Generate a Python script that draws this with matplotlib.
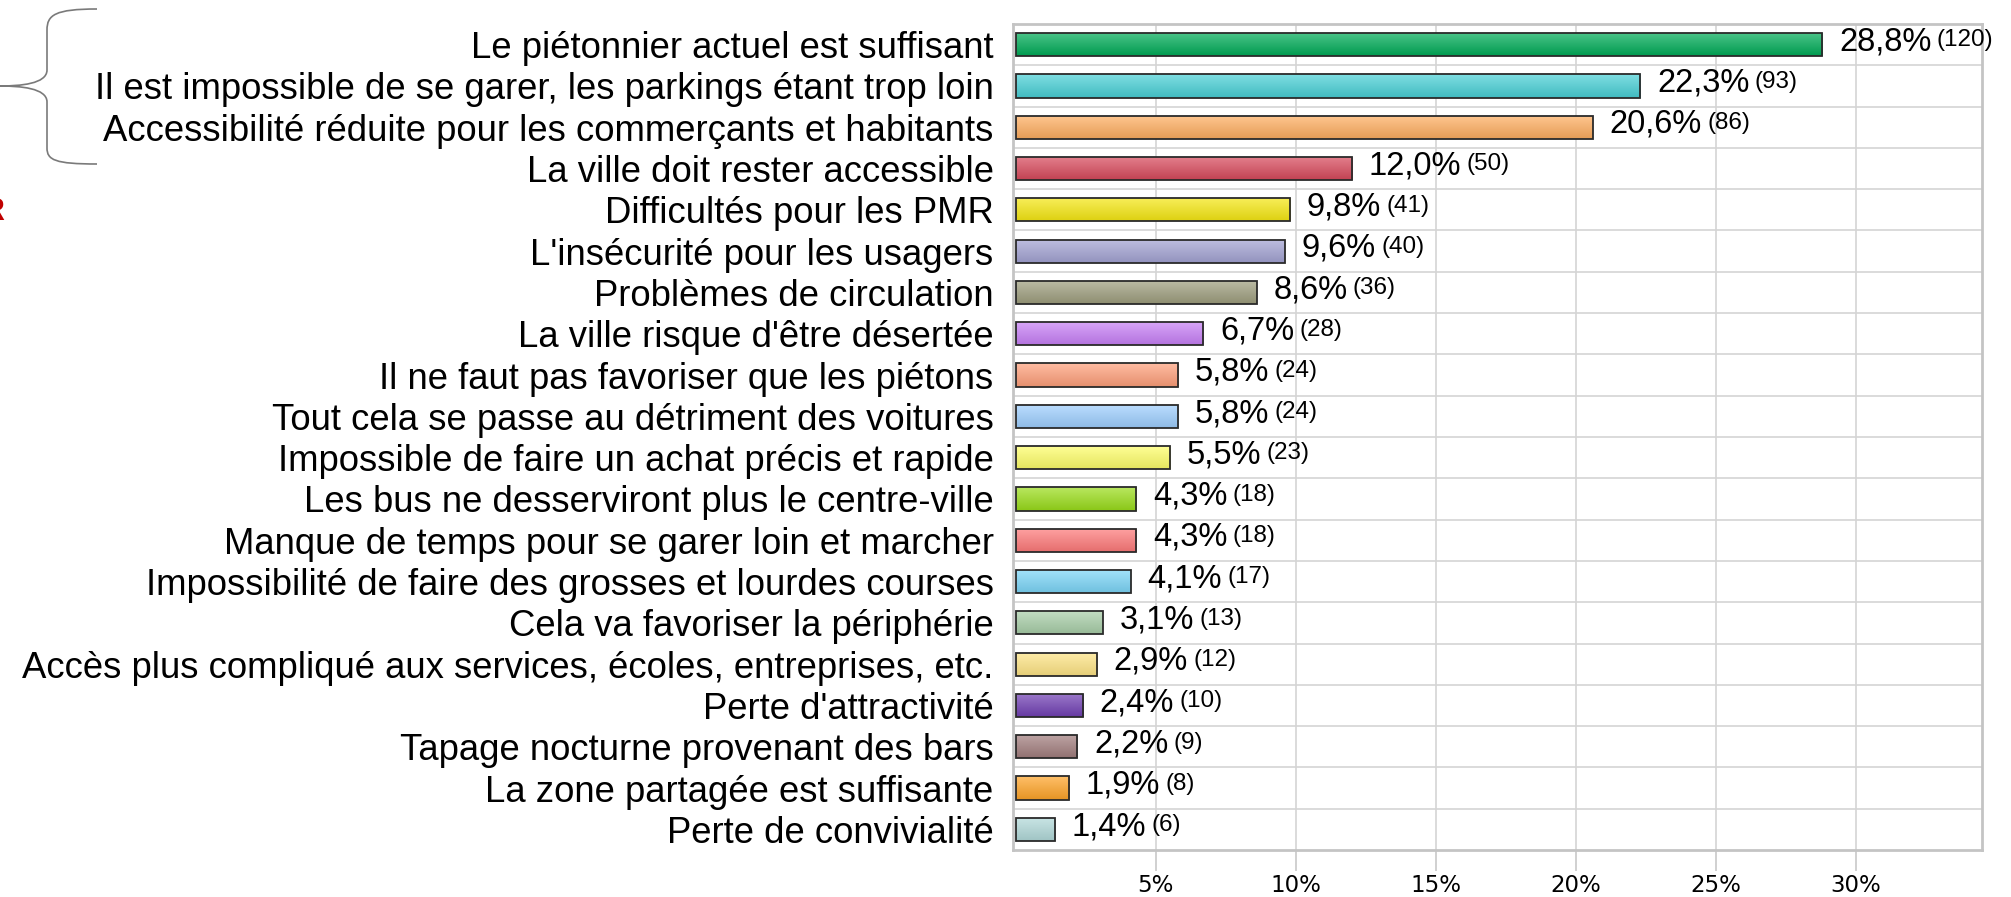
import matplotlib
matplotlib.use("Agg")
from matplotlib import pyplot as plt
from matplotlib.path import Path
from matplotlib.patches import PathPatch
import matplotlib.colors as mcolors
import numpy as np

# data
labels = [
    "Le piétonnier actuel est suffisant",
    "Il est impossible de se garer, les parkings étant trop loin",
    "Accessibilité réduite pour les commerçants et habitants",
    "La ville doit rester accessible",
    "Difficultés pour les PMR",
    "L'insécurité pour les usagers",
    "Problèmes de circulation",
    "La ville risque d'être désertée",
    "Il ne faut pas favoriser que les piétons",
    "Tout cela se passe au détriment des voitures",
    "Impossible de faire un achat précis et rapide",
    "Les bus ne desserviront plus le centre-ville",
    "Manque de temps pour se garer loin et marcher",
    "Impossibilité de faire des grosses et lourdes courses",
    "Cela va favoriser la périphérie",
    "Accès plus compliqué aux services, écoles, entreprises, etc.",
    "Perte d'attractivité",
    "Tapage nocturne provenant des bars",
    "La zone partagée est suffisante",
    "Perte de convivialité",
]
pct = [28.8, 22.3, 20.6, 12.0, 9.8, 9.6, 8.6, 6.7, 5.8, 5.8,
       5.5, 4.3, 4.3, 4.1, 3.1, 2.9, 2.4, 2.2, 1.9, 1.4]
counts = [120, 93, 86, 50, 41, 40, 36, 28, 24, 24,
          23, 18, 18, 17, 13, 12, 10, 9, 8, 6]
colors = ['#00AC58', '#48D0D6', '#FFAE60', '#D84A5C', '#F6E814',
          '#A3A3D3', '#9E9E7E', '#C880F7', '#FF9F7A', '#9ECFFF',
          '#FFFF6A', '#9ADD1A', '#FF7A7A', '#7CD6F8', '#A9CFA9',
          '#FFE585', '#7140B4', '#A27E7E', '#FFA428', '#B2DADA']
xticks = [5, 10, 15, 20, 25, 30]

plt.rcParams['font.family'] = ['Liberation Sans', 'DejaVu Sans']

fig = plt.figure(figsize=(20.11, 8.97), dpi=100)
ax = fig.add_axes([1013/2011, 1-850/897, (1982-1013)/2011, (850-24)/897])

ypos = list(range(len(labels)))
bars = ax.barh(ypos, pct, height=0.56, color=colors, edgecolor='#2A2A2A', linewidth=1.3, zorder=3)

ax.set_xlim(-0.1, 34.5)
ax.set_ylim(len(labels)-0.5, -0.5)

# light-to-saturated vertical gradient on each bar
for rect, c in zip(bars, colors):
    rgb = np.array(mcolors.to_rgb(c))
    top = rgb + (1 - rgb) * 0.3
    bot = rgb * 0.9
    t = np.linspace(0, 1, 32)[:, None]
    grad = (top * (1 - t) + bot * t)[:, None, :]
    x0, y0 = rect.get_x(), rect.get_y()
    w, h = rect.get_width(), rect.get_height()
    im = ax.imshow(grad, extent=(x0, x0 + w, y0 + h, y0), aspect='auto',
                   origin='upper', zorder=3.5, interpolation='bilinear')
    im.set_clip_path(rect)
    rect.set_facecolor('none')
    rect.set_zorder(4)

ax.set_xlim(-0.1, 34.5)
ax.set_ylim(len(labels)-0.5, -0.5)
ax.set_yticks(ypos)
ax.set_yticklabels(labels, fontsize=26.3)
ax.set_yticks([y+0.5 for y in ypos[:-1]], minor=True)
ax.tick_params(axis='y', which='both', length=0, pad=14)
ax.set_xticks(xticks)
ax.set_xticklabels([f"{t}%" for t in xticks], fontsize=16.5, family='DejaVu Sans')
ax.tick_params(axis='x', length=15, color='#C8C8C8', width=1.2, pad=2)
ax.grid(axis='x', color='#D4D4D4', linewidth=1.2, zorder=0)
ax.grid(axis='y', which='minor', color='#D4D4D4', linewidth=1.2, zorder=0)
for s in ax.spines.values():
    s.set_color('#C4C4C4')
    s.set_linewidth(2)

for y, p, c in zip(ypos, pct, counts):
    t = ax.annotate(f"{p:.1f}%".replace('.', ','), xy=(p, y), xytext=(12, 2),
                    textcoords='offset points', va='center', ha='left', fontsize=23.5)
    ax.annotate(f"({c})", xy=(1, 0.5), xycoords=t, xytext=(4, 1),
                textcoords='offset points', va='center', ha='left', fontsize=17.5)

# brace on the left
W, H = 2011., 897.
def f(px, py):
    return (px/W, 1-py/H)
verts = [f(97, 9), f(55, 9), f(47, 15), f(47, 30),
         f(47, 70),
         f(47, 84), f(20, 86), f(0, 86),
         f(20, 86), f(47, 88), f(47, 102),
         f(47, 148),
         f(47, 160), f(55, 164), f(97, 164)]
codes = [Path.MOVETO, Path.CURVE4, Path.CURVE4, Path.CURVE4,
         Path.LINETO,
         Path.CURVE4, Path.CURVE4, Path.CURVE4,
         Path.CURVE4, Path.CURVE4, Path.CURVE4,
         Path.LINETO,
         Path.CURVE4, Path.CURVE4, Path.CURVE4]
fig.patches.append(PathPatch(Path(verts, codes), transform=fig.transFigure,
                             fill=False, edgecolor='#7A7A7A', linewidth=1.2))
fig.text(-17/W, 1-212/H, "R", color='#C00000', fontsize=22, fontweight='bold',
         va='center', ha='left')

fig.savefig("out.png", dpi=100)
